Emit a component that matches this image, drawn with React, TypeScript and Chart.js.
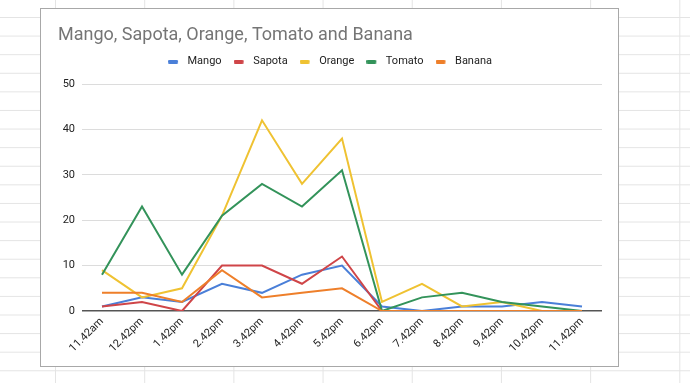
import React, { useEffect, useRef } from 'react';
import { Chart, registerables } from 'chart.js';

Chart.register(...registerables);

const categories = ['11.42am', '12.42pm', '1.42pm', '2.42pm', '3.42pm', '4.42pm', '5.42pm', '6.42pm', '7.42pm', '8.42pm', '9.42pm', '10.42pm', '11.42pm'];
const seriesNames = ['Mango', 'Sapota', 'Orange', 'Tomato', 'Banana'];
const mango = [1, 3, 2, 6, 4, 8, 10, 1, 0, 1, 1, 2, 1];
const sapota = [1, 2, 0, 10, 10, 6, 12, 0, 0, 0, 0, 0, 0];
const orange = [9, 3, 5, 21, 42, 28, 38, 2, 6, 1, 2, 0, 0];
const tomato = [8, 23, 8, 21, 28, 23, 31, 0, 3, 4, 2, 1, 0];
const banana = [4, 4, 2, 9, 3, 4, 5, 0, 0, 0, 0, 0, 0];
const yTicks = [0, 10, 20, 30, 40, 50];
const colors = ['#4a7fd8', '#cf4548', '#efc232', '#33935a', '#ee7f2a'];
const title = 'Mango, Sapota, Orange, Tomato and Banana';

const FONT = 'Roboto, "Noto Sans", sans-serif';

function makeIcon(color: string): HTMLCanvasElement {
  const c = document.createElement('canvas');
  c.width = 14;
  c.height = 4;
  const g = c.getContext('2d')!;
  g.fillStyle = color;
  g.beginPath();
  if ((g as any).roundRect) (g as any).roundRect(0, 0, 10, 4, 1.5);
  else g.rect(0, 0, 10, 4);
  g.fill();
  return c;
}

export default function App() {
  const ref = useRef<HTMLCanvasElement | null>(null);

  useEffect(() => {
    if (!ref.current) return;
    const values = [mango, sapota, orange, tomato, banana];
    const icons = colors.map(makeIcon);
    const legendShift = {
      id: 'legendShift',
      afterLayout(chart: any) {
        if (chart.legend) {
          chart.legend.top -= 7;
          chart.legend.bottom -= 7;
        }
      },
    };
    const chart = new Chart(ref.current, {
      type: 'line',
      data: {
        labels: categories,
        datasets: seriesNames.map((name, i) => ({
          label: name,
          data: values[i],
          borderColor: colors[i],
          backgroundColor: colors[i],
          borderWidth: 2,
          pointRadius: 0,
          pointHoverRadius: 0,
          tension: 0,
          fill: false,
          order: seriesNames.length - i,
        })),
      },
      options: {
        responsive: false,
        animation: false,
        events: [],
        layout: { padding: { left: 17, right: 16, top: 0, bottom: 0 } },
        plugins: {
          tooltip: { enabled: false },
          title: {
            display: true,
            text: title,
            align: 'start',
            color: '#757575',
            font: { family: FONT, size: 18, weight: 'normal', lineHeight: 1 },
            padding: { top: 17, bottom: 7 },
          },
          legend: {
            display: true,
            position: 'top',
            align: 'center',
            labels: {
              usePointStyle: true,
              pointStyleWidth: 14,
              boxHeight: 4,
              padding: 12,
              color: '#222',
              font: { family: FONT, size: 11 },
              sort: (a: any, b: any) => a.datasetIndex - b.datasetIndex,
              generateLabels: (c: any) => {
                const items = (Chart.defaults.plugins.legend.labels as any).generateLabels(c);
                return items.map((it: any) => ({ ...it, pointStyle: icons[it.datasetIndex], lineWidth: 0 }));
              },
            },
          },
        },
        scales: {
          x: {
            offset: true,
            grid: { display: false, drawTicks: false },
            border: { display: false },
            ticks: {
              autoSkip: false,
              minRotation: 45,
              maxRotation: 45,
              padding: 4,
              color: '#222',
              font: { family: FONT, size: 11 },
            },
            afterFit: (s: any) => {
              s.height = 55;
            },
          },
          y: {
            min: 0,
            max: 50,
            grid: {
              drawTicks: false,
              color: (c: any) => (c.tick && c.tick.value === 0 ? '#555555' : '#dcdcdc'),
              lineWidth: (c: any) => (c.tick && c.tick.value === 0 ? 1.5 : 1),
            },
            border: { display: false },
            ticks: {
              padding: 7,
              color: '#222',
              font: { family: FONT, size: 11 },
            },
            afterBuildTicks: (s: any) => {
              s.ticks = yTicks.map((v) => ({ value: v }));
            },
            afterFit: (s: any) => {
              s.width = 24;
            },
          },
        },
      },
      plugins: [legendShift],
    } as any);
    return () => chart.destroy();
  }, []);

  return (
    <div
      style={{
        position: 'absolute',
        left: 0,
        top: 0,
        width: 690,
        height: 383,
        overflow: 'hidden',
        backgroundColor: '#ffffff',
        backgroundImage:
          'linear-gradient(to right, #e4e4e4 1px, transparent 1px), linear-gradient(to bottom, #e4e4e4 1px, transparent 1px)',
        backgroundSize: '89.2px 18.6px',
        backgroundPosition: '55px 17px',
      }}
    >
      <div
        style={{
          position: 'absolute',
          left: 40,
          top: 8,
          width: 579,
          height: 359,
          boxSizing: 'border-box',
          border: '1px solid #a8a8a8',
          background: '#ffffff',
        }}
      >
        <canvas ref={ref} width={577} height={357} style={{ display: 'block', width: 577, height: 357 }} />
      </div>
    </div>
  );
}
